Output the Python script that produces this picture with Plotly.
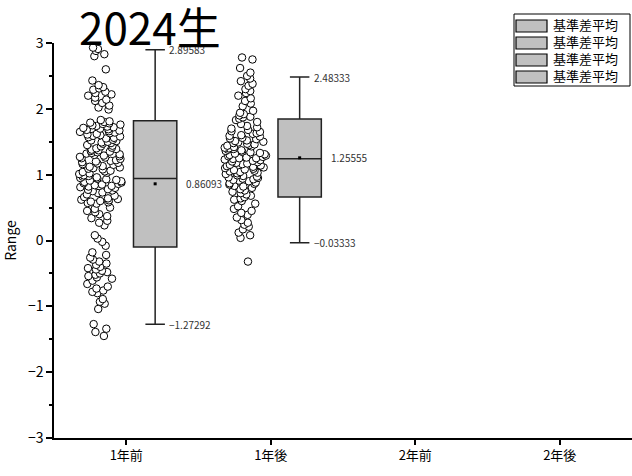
import plotly.graph_objects as go

categories = ["1年前", "1年後", "2年前", "2年後"]
cat_pos = [0, 1, 2, 3]

# scatter samples
pts_1nenmae = [
    2.93, 2.91, 2.88, 2.83, 2.80, 2.60,
    2.43, 2.36, 2.33, 2.31, 2.29, 2.26, 2.24, 2.22, 2.20, 2.17, 2.14, 2.12, 2.09, 2.05, 2.02, 1.99,
    1.83, 1.81, 1.80, 1.79, 1.78, 1.77, 1.76, 1.75, 1.74, 1.73, 1.72, 1.71, 1.70, 1.69, 1.68, 1.67,
    1.66, 1.65, 1.64, 1.63, 1.62, 1.61, 1.60, 1.59, 1.58, 1.57, 1.56, 1.55, 1.53, 1.52, 1.51, 1.50,
    1.49, 1.48, 1.47, 1.45, 1.44, 1.43, 1.41, 1.40, 1.39, 1.38, 1.37, 1.36, 1.35, 1.34, 1.33, 1.32,
    1.31, 1.30, 1.29, 1.28, 1.27, 1.26, 1.25, 1.24, 1.22, 1.21, 1.20, 1.19, 1.18, 1.17, 1.16, 1.15,
    1.13, 1.12, 1.11, 1.10, 1.09, 1.08, 1.06, 1.05, 1.04, 1.03, 1.02, 1.01,
    0.99, 0.98, 0.97, 0.96, 0.95, 0.94, 0.93, 0.92, 0.91, 0.90, 0.89, 0.88, 0.87, 0.86, 0.85, 0.84,
    0.83, 0.82, 0.81, 0.80, 0.78, 0.77, 0.76, 0.75, 0.73, 0.72, 0.70, 0.68, 0.66, 0.64, 0.63, 0.62,
    0.61, 0.60, 0.59, 0.58, 0.57, 0.56,
    0.50, 0.48, 0.45, 0.43, 0.40, 0.37, 0.34, 0.30, 0.27, 0.23,
    0.08, 0.03, -0.02, -0.08,
    -0.18, -0.22, -0.26, -0.29, -0.32, -0.35, -0.37, -0.40, -0.42, -0.44, -0.46, -0.48, -0.50,
    -0.52, -0.54, -0.56, -0.58, -0.61,
    -0.66, -0.70, -0.73, -0.76, -0.78, -0.80, -0.89, -0.93, -0.96, -1.04,
    -1.27, -1.34, -1.39, -1.45,
]
pts_1nengo = [
    2.78, 2.75, 2.62, 2.55, 2.50, 2.46, 2.42, 2.38, 2.35, 2.30, 2.27, 2.24, 2.20, 2.16, 2.12, 2.08, 2.04,
    1.97, 1.94, 1.92, 1.90, 1.88, 1.87, 1.85, 1.83, 1.80, 1.77,
    1.74, 1.72, 1.70, 1.68, 1.66, 1.65, 1.63, 1.62, 1.60, 1.59, 1.58, 1.56, 1.55, 1.54, 1.52, 1.51,
    1.50, 1.49, 1.48, 1.47, 1.46, 1.45,
    1.44, 1.43, 1.42, 1.41, 1.40, 1.39, 1.38, 1.37, 1.36, 1.35, 1.34, 1.33, 1.32, 1.31, 1.30, 1.29,
    1.28, 1.27, 1.26, 1.25, 1.25, 1.24, 1.23, 1.22, 1.21, 1.20, 1.19, 1.18, 1.17, 1.16, 1.15, 1.14,
    1.13, 1.12, 1.11, 1.10, 1.09, 1.08, 1.07, 1.06, 1.05, 1.04, 1.03, 1.02, 1.01,
    0.99, 0.98, 0.97, 0.96, 0.95, 0.94, 0.93, 0.92, 0.91, 0.90, 0.88, 0.87, 0.86, 0.85, 0.83, 0.82,
    0.80, 0.78, 0.76, 0.74, 0.72, 0.70, 0.68, 0.66, 0.64, 0.62, 0.60,
    0.56, 0.52, 0.48, 0.45, 0.42, 0.39,
    0.35, 0.31, 0.27, 0.24, 0.21, 0.17, 0.12, 0.08, 0.04,
    -0.32,
]

# box statistics
box_q1 = [-0.10, 0.66]
box_median = [0.94, 1.24]
box_q3 = [1.82, 1.845]
box_lower = [-1.27292, -0.03333]
box_upper = [2.89583, 2.48333]
box_mean = [0.86093, 1.25555]

legend_names = ["基準差平均", "基準差平均", "基準差平均", "基準差平均"]
FONT = "Noto Sans CJK JP"

box_offset = 0.2
pts_offset = -0.18
box_w = 0.30

# plot area in pixels (for paper-coordinate conversion of legend / title)
L, R, T, B = 54, 632, 43, 438
W, H = R - L, B - T


def px(xp):
    return (xp - L) / W


def py(yp):
    return 1 - (yp - T) / H


fig = go.Figure()

# sample points
for i, pts in enumerate([pts_1nenmae, pts_1nengo]):
    fig.add_trace(go.Box(
        x=[cat_pos[i] + pts_offset] * len(pts), y=pts,
        boxpoints="all", jitter=0.95, pointpos=0, width=0.31,
        fillcolor="rgba(0,0,0,0)", line=dict(width=0, color="rgba(0,0,0,0)"),
        marker=dict(symbol="circle", size=7.5, color="white",
                    line=dict(color="black", width=1)),
        showlegend=False, hoverinfo="y",
    ))

# boxes
for i in range(2):
    fig.add_trace(go.Box(
        x=[cat_pos[i] + box_offset], q1=[box_q1[i]], median=[box_median[i]], q3=[box_q3[i]],
        lowerfence=[box_lower[i]], upperfence=[box_upper[i]],
        boxpoints=False, width=box_w, whiskerwidth=0.45,
        fillcolor="#c0c0c0", line=dict(color="#222222", width=1.5),
        name=legend_names[i], showlegend=False,
    ))

# mean markers
fig.add_trace(go.Scatter(
    x=[p + box_offset for p in cat_pos[:2]], y=box_mean, mode="markers",
    marker=dict(symbol="square", size=3, color="black"), showlegend=False,
))

annotations = []
for i in range(2):
    xc = cat_pos[i] + box_offset
    for val, shift in [(box_upper[i], 12), (box_lower[i], 12), (box_mean[i], 29)]:
        txt = f"{val:.5f}".replace("-", "−")
        annotations.append(dict(
            x=xc, y=val, xref="x", yref="y", text=txt, showarrow=False,
            xanchor="left", yanchor="middle", xshift=shift,
            font=dict(family=FONT, size=10, color="#333333"),
        ))

# title
annotations.append(dict(
    x=px(150), y=py(26), xref="paper", yref="paper",
    text="2024生", showarrow=False, xanchor="center", yanchor="middle",
    font=dict(family=FONT, size=44, color="black"),
))

# manual legend (drawn like the reference's boxed legend)
shapes = [dict(type="rect", xref="paper", yref="paper",
               x0=px(514), x1=px(630), y0=py(86), y1=py(14),
               line=dict(color="black", width=1), fillcolor="white", layer="above")]
for k in range(len(legend_names)):
    ytop = 20 + 17 * k
    shapes.append(dict(type="rect", xref="paper", yref="paper",
                       x0=px(516), x1=px(547), y0=py(ytop + 12), y1=py(ytop),
                       line=dict(color="black", width=1.2), fillcolor="#c0c0c0",
                       layer="above"))
annotations.append(dict(
    x=px(551), y=py(50), xref="paper", yref="paper", text="<br>".join(legend_names),
    showarrow=False, xanchor="left", yanchor="middle", align="left",
    font=dict(family=FONT, size=13, color="black"),
))

fig.update_layout(
    width=632, height=476,
    margin=dict(l=L, r=632 - R, t=T, b=476 - B),
    plot_bgcolor="white", paper_bgcolor="white",
    boxmode="overlay", showlegend=False,
    font=dict(family=FONT, size=13, color="black"),
    annotations=annotations, shapes=shapes,
    xaxis=dict(
        range=[-0.5, 3.5], tickmode="array", tickvals=cat_pos, ticktext=categories,
        showline=True, linecolor="black", linewidth=1.5, ticks="outside",
        ticklen=5, tickwidth=1.5, tickcolor="black", showgrid=False, zeroline=False,
        tickfont=dict(family=FONT, size=13),
    ),
    yaxis=dict(
        range=[-3, 3], dtick=1, tick0=0, showline=True, linecolor="black", linewidth=1.5,
        ticks="outside", ticklen=6, tickwidth=1.5, tickcolor="black",
        minor=dict(dtick=0.5, ticks="outside", ticklen=3, tickcolor="black", tickwidth=1.5),
        showgrid=False, zeroline=False,
        title=dict(text="Range", font=dict(family=FONT, size=14), standoff=18),
        tickfont=dict(family=FONT, size=14),
        tickformat="d",
    ),
)

fig.write_html(
    "out.html",
    config={"displayModeBar": False},
    post_script="document.body.style.margin='0';document.body.style.padding='0';",
)
